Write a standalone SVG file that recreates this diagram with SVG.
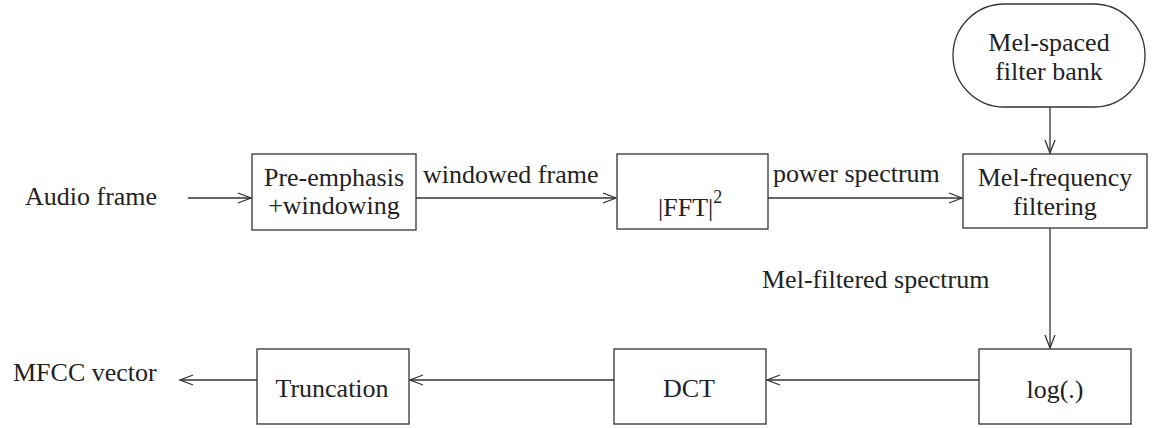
<svg xmlns="http://www.w3.org/2000/svg" width="1155" height="428" viewBox="0 0 1155 428">
  <style>
    .box { fill: #ffffff; stroke: #333333; stroke-width: 1.3; }
    .lbl { font-family: "Liberation Serif", "Times New Roman", serif; font-size: 26px; fill: #222222; }
    .mid { text-anchor: middle; }
    .edge { fill: none; stroke: #333333; stroke-width: 1.3; marker-end: url(#open); }
  </style>
  <defs>
    <marker id="open" markerUnits="userSpaceOnUse" markerWidth="16" markerHeight="12" refX="0" refY="0" viewBox="-14 -6 16 12" orient="auto" overflow="visible">
      <path d="M-13,-5 L0,0 L-13,5" fill="none" stroke="#333333" stroke-width="1.3"/>
    </marker>
  </defs>
  <rect width="1155" height="428" fill="#ffffff"/>

  <!-- free-standing input / output labels -->
  <g id="input">
    <text class="lbl" x="25" y="205">Audio frame</text>
  </g>
  <g id="output">
    <text class="lbl" x="13" y="381">MFCC vector</text>
  </g>

  <g id="preemphasis">
    <rect class="box" x="252" y="154" width="164" height="76"/>
    <text class="lbl mid" x="334" y="186">Pre-emphasis</text>
    <text class="lbl mid" x="334" y="214">+windowing</text>
  </g>

  <g id="fft">
    <rect class="box" x="617" y="154" width="151" height="75"/>
    <text class="lbl" x="658" y="216">|FFT|<tspan font-size="18" dy="-13">2</tspan></text>
  </g>

  <g id="filterbank">
    <rect class="box" x="953" y="4" width="192" height="103" rx="51.5" ry="51.5"/>
    <text class="lbl mid" x="1049" y="51">Mel-spaced</text>
    <text class="lbl mid" x="1049" y="80">filter bank</text>
  </g>

  <g id="melfilter">
    <rect class="box" x="963" y="154" width="184" height="74"/>
    <text class="lbl mid" x="1055" y="186">Mel-frequency</text>
    <text class="lbl mid" x="1055" y="215">filtering</text>
  </g>

  <g id="log">
    <rect class="box" x="979" y="349" width="152" height="75"/>
    <text class="lbl mid" x="1055" y="398">log(.)</text>
  </g>

  <g id="dct">
    <rect class="box" x="614" y="349" width="152" height="75"/>
    <text class="lbl mid" x="689" y="397">DCT</text>
  </g>

  <g id="truncation">
    <rect class="box" x="257" y="349" width="152" height="75"/>
    <text class="lbl mid" x="332" y="397">Truncation</text>
  </g>

  <g id="connectors">
    <path class="edge" d="M188,198 H251"/>
    <path class="edge" d="M416,198 H616"/>
    <path class="edge" d="M768,198 H962"/>
    <path class="edge" d="M1050,107 V153"/>
    <path class="edge" d="M1050,228 V348"/>
    <path class="edge" d="M979,380 H767"/>
    <path class="edge" d="M614,380 H410"/>
    <path class="edge" d="M257,380 H180"/>
    <text class="lbl" x="423" y="183">windowed frame</text>
    <text class="lbl" x="773" y="182">power spectrum</text>
    <text class="lbl" x="762" y="288">Mel-filtered spectrum</text>
  </g>
</svg>
